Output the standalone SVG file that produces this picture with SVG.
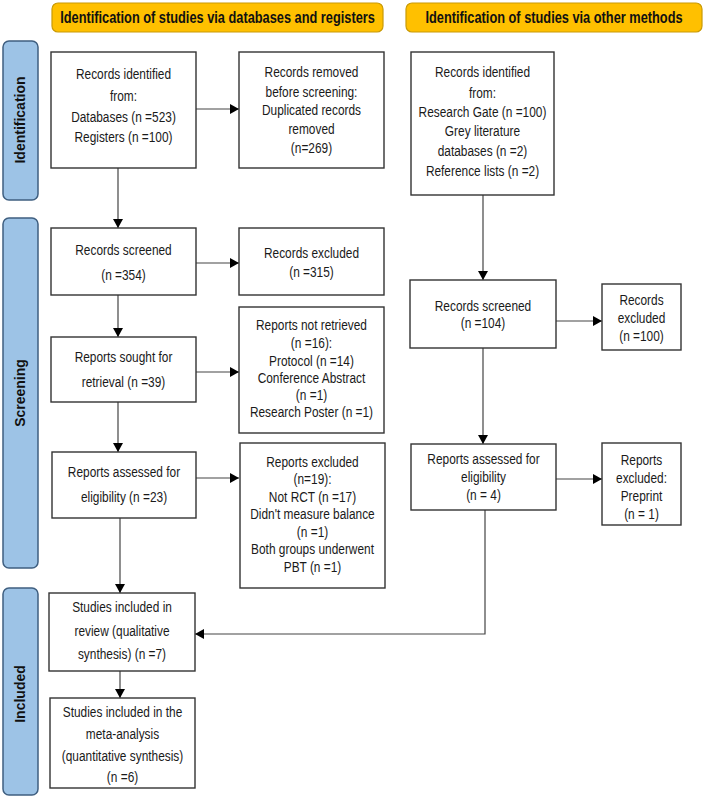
<svg xmlns="http://www.w3.org/2000/svg" width="704" height="798" viewBox="0 0 704 798">
<style>
.hdr{fill:#FFC000;stroke:#C99A06;stroke-width:1.2}
.hdrt{font-family:"Liberation Sans",Arial,sans-serif;font-weight:bold;font-size:16px;fill:#111;text-anchor:middle}
.bar{fill:#9DC3E6;stroke:#3F5F80;stroke-width:1.5}
.bart{font-family:"Liberation Sans",Arial,sans-serif;font-weight:bold;font-size:14px;fill:#111;text-anchor:middle}
.box{fill:#fff;stroke:#333;stroke-width:1.4}
.t{font-family:"Liberation Sans",Arial,sans-serif;font-size:14.5px;fill:#1a1a1a;text-anchor:middle}
.c{fill:none;stroke:#444;stroke-width:1.2}
</style>
<defs>
<marker id="ah" markerUnits="userSpaceOnUse" markerWidth="9" markerHeight="10" refX="9" refY="5" orient="auto">
<path d="M0,0 L9,5 L0,10 z" fill="#000"/>
</marker>
</defs>
<rect width="704" height="798" fill="#fff"/>

<g id="header-databases">
<rect class="hdr" x="52" y="3" width="331" height="29" rx="6"/>
<g transform="translate(217.5 0) scale(0.8 1)"><text class="hdrt" x="0" y="23">Identification of studies via databases and registers</text></g>
</g>
<g id="header-other">
<rect class="hdr" x="406" y="3" width="296" height="29" rx="6"/>
<g transform="translate(554 0) scale(0.8 1)"><text class="hdrt" x="0" y="23">Identification of studies via other methods</text></g>
</g>

<g id="stage-identification">
<rect class="bar" x="3" y="41" width="35" height="159" rx="6"/>
<text class="bart" transform="translate(25 120) rotate(-90)" x="0" y="0">Identification</text>
</g>
<g id="stage-screening">
<rect class="bar" x="3" y="218" width="35" height="350" rx="6"/>
<text class="bart" transform="translate(25 393) rotate(-90)" x="0" y="0">Screening</text>
</g>
<g id="stage-included">
<rect class="bar" x="3" y="588" width="35" height="207" rx="6"/>
<text class="bart" transform="translate(25 694) rotate(-90)" x="0" y="0">Included</text>
</g>

<g id="connectors">
<line class="c" x1="196" y1="109" x2="239" y2="109" marker-end="url(#ah)"/>
<line class="c" x1="118" y1="168" x2="118" y2="228" marker-end="url(#ah)"/>
<line class="c" x1="196" y1="263" x2="239" y2="263" marker-end="url(#ah)"/>
<line class="c" x1="118" y1="295" x2="118" y2="337" marker-end="url(#ah)"/>
<line class="c" x1="196" y1="372" x2="239" y2="372" marker-end="url(#ah)"/>
<line class="c" x1="118" y1="402" x2="118" y2="452" marker-end="url(#ah)"/>
<line class="c" x1="196" y1="478" x2="239" y2="478" marker-end="url(#ah)"/>
<line class="c" x1="120" y1="518" x2="120" y2="593" marker-end="url(#ah)"/>
<line class="c" x1="120" y1="671" x2="120" y2="698" marker-end="url(#ah)"/>
<line class="c" x1="483" y1="195" x2="483" y2="280" marker-end="url(#ah)"/>
<line class="c" x1="556" y1="321" x2="602" y2="321" marker-end="url(#ah)"/>
<line class="c" x1="483" y1="348" x2="483" y2="444" marker-end="url(#ah)"/>
<line class="c" x1="556" y1="479" x2="602" y2="479" marker-end="url(#ah)"/>
<polyline class="c" points="485,510 485,634 195,634" marker-end="url(#ah)"/>
</g>

<g id="records-identified">
<rect class="box" x="51" y="52" width="145" height="116"/>
<g transform="translate(123.5 0) scale(0.82 1)">
<text class="t" x="0" y="79">Records identified</text>
<text class="t" x="0" y="101">from:</text>
<text class="t" x="0" y="122">Databases (n =523)</text>
<text class="t" x="0" y="142">Registers (n =100)</text>
</g>
</g>

<g id="records-removed">
<rect class="box" x="239" y="52" width="145" height="116"/>
<g transform="translate(311.5 0) scale(0.82 1)">
<text class="t" x="0" y="77">Records removed</text>
<text class="t" x="0" y="97">before screening:</text>
<text class="t" x="0" y="115">Duplicated  records</text>
<text class="t" x="0" y="134">removed</text>
<text class="t" x="0" y="153">(n=269)</text>
</g>
</g>

<g id="records-identified-other">
<rect class="box" x="411" y="52" width="143" height="143"/>
<g transform="translate(482.5 0) scale(0.82 1)">
<text class="t" x="0" y="77">Records identified</text>
<text class="t" x="0" y="98">from:</text>
<text class="t" x="0" y="117">Research Gate (n =100)</text>
<text class="t" x="0" y="136">Grey literature</text>
<text class="t" x="0" y="156">databases (n =2)</text>
<text class="t" x="0" y="176">Reference lists (n =2)</text>
</g>
</g>

<g id="records-screened">
<rect class="box" x="51" y="228" width="145" height="67"/>
<g transform="translate(123.5 0) scale(0.82 1)">
<text class="t" x="0" y="255">Records screened</text>
<text class="t" x="0" y="280">(n =354)</text>
</g>
</g>

<g id="records-excluded">
<rect class="box" x="239" y="228" width="145" height="67"/>
<g transform="translate(311.5 0) scale(0.82 1)">
<text class="t" x="0" y="258">Records excluded</text>
<text class="t" x="0" y="277">(n =315)</text>
</g>
</g>

<g id="reports-sought">
<rect class="box" x="51" y="337" width="145" height="65"/>
<g transform="translate(123.5 0) scale(0.82 1)">
<text class="t" x="0" y="362">Reports sought for</text>
<text class="t" x="0" y="387">retrieval (n =39)</text>
</g>
</g>

<g id="reports-not-retrieved">
<rect class="box" x="239" y="307" width="145" height="126"/>
<g transform="translate(311.5 0) scale(0.82 1)">
<text class="t" x="0" y="330">Reports not retrieved</text>
<text class="t" x="0" y="348">(n =16):</text>
<text class="t" x="0" y="366">Protocol (n =14)</text>
<text class="t" x="0" y="383">Conference Abstract</text>
<text class="t" x="0" y="400">(n =1)</text>
<text class="t" x="0" y="417">Research Poster (n =1)</text>
</g>
</g>

<g id="reports-assessed">
<rect class="box" x="52" y="452" width="144" height="66"/>
<g transform="translate(124 0) scale(0.82 1)">
<text class="t" x="0" y="477">Reports assessed for</text>
<text class="t" x="0" y="502">eligibility (n =23)</text>
</g>
</g>

<g id="reports-excluded">
<rect class="box" x="240" y="443" width="145" height="145"/>
<g transform="translate(312.5 0) scale(0.82 1)">
<text class="t" x="0" y="467">Reports excluded</text>
<text class="t" x="0" y="484.5">(n=19):</text>
<text class="t" x="0" y="502">Not RCT (n =17)</text>
<text class="t" x="0" y="519.5">Didn't measure balance</text>
<text class="t" x="0" y="537">(n =1)</text>
<text class="t" x="0" y="554.5">Both groups underwent</text>
<text class="t" x="0" y="572">PBT (n =1)</text>
</g>
</g>

<g id="records-screened-other">
<rect class="box" x="410" y="280" width="146" height="68"/>
<g transform="translate(483 0) scale(0.82 1)">
<text class="t" x="0" y="311">Records screened</text>
<text class="t" x="0" y="328">(n =104)</text>
</g>
</g>

<g id="records-excluded-other">
<rect class="box" x="602" y="284" width="79" height="66"/>
<g transform="translate(641.5 0) scale(0.82 1)">
<text class="t" x="0" y="305">Records</text>
<text class="t" x="0" y="323">excluded</text>
<text class="t" x="0" y="341">(n =100)</text>
</g>
</g>

<g id="reports-assessed-other">
<rect class="box" x="411" y="444" width="145" height="66"/>
<g transform="translate(483.5 0) scale(0.82 1)">
<text class="t" x="0" y="464">Reports assessed for</text>
<text class="t" x="0" y="482">eligibility</text>
<text class="t" x="0" y="500">(n = 4)</text>
</g>
</g>

<g id="reports-excluded-other">
<rect class="box" x="602" y="443" width="79" height="82"/>
<g transform="translate(641.5 0) scale(0.82 1)">
<text class="t" x="0" y="465">Reports</text>
<text class="t" x="0" y="483">excluded:</text>
<text class="t" x="0" y="501">Preprint</text>
<text class="t" x="0" y="519">(n = 1)</text>
</g>
</g>

<g id="studies-included-review">
<rect class="box" x="49" y="593" width="146" height="78"/>
<g transform="translate(122 0) scale(0.82 1)">
<text class="t" x="0" y="612">Studies included in</text>
<text class="t" x="0" y="636">review (qualitative</text>
<text class="t" x="0" y="659">synthesis) (n =7)</text>
</g>
</g>

<g id="studies-included-meta">
<rect class="box" x="50" y="698" width="145" height="90"/>
<g transform="translate(122.5 0) scale(0.82 1)">
<text class="t" x="0" y="717">Studies included in the</text>
<text class="t" x="0" y="739">meta-analysis</text>
<text class="t" x="0" y="761">(quantitative synthesis)</text>
<text class="t" x="0" y="782">(n =6)</text>
</g>
</g>
</svg>
